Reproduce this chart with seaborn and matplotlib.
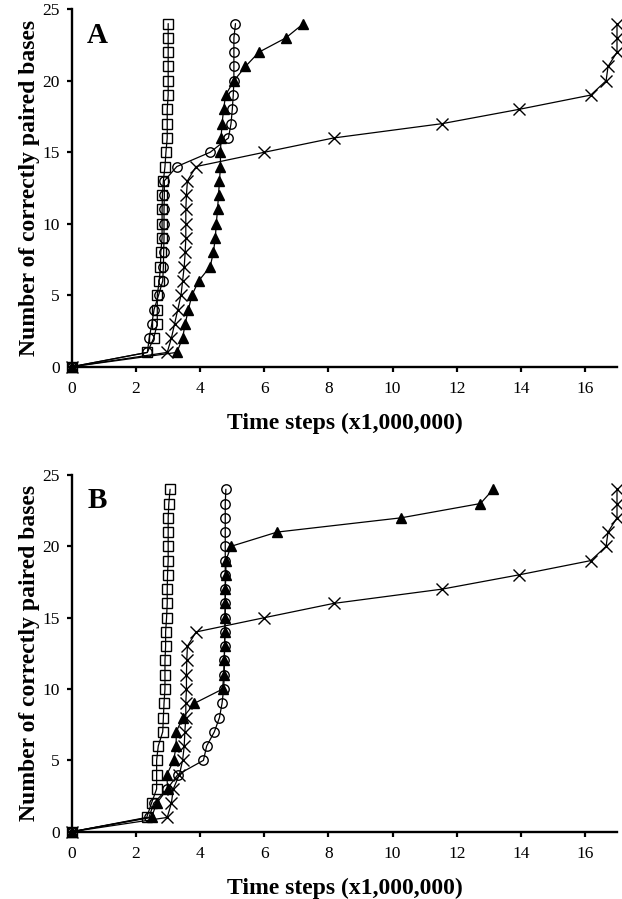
import matplotlib
matplotlib.use("Agg")
import matplotlib.pyplot as plt
import seaborn as sns
import pandas as pd

# number of correctly paired bases (same for every run)
paired = [0, 1, 2, 3, 4, 5, 6, 7, 8, 9, 10, 11, 12,
          13, 14, 15, 16, 17, 18, 19, 20, 21, 22, 23, 24]

# panel A: time steps (x1,000,000) at which each base got paired
a_square = [0, 2.35, 2.55, 2.66, 2.66, 2.66, 2.72, 2.76, 2.77, 2.81, 2.81, 2.81, 2.82,
            2.85, 2.9, 2.93, 2.97, 2.97, 2.97, 3.0, 3.0, 3.0, 3.0, 3.0, 3.0]
a_circle = [0, 2.35, 2.41, 2.49, 2.56, 2.7, 2.83, 2.85, 2.86, 2.87, 2.87, 2.87, 2.88,
            2.88, 3.27, 4.31, 4.88, 4.96, 5.0, 5.03, 5.05, 5.05, 5.05, 5.05, 5.1]
a_triangle = [0, 3.27, 3.45, 3.53, 3.63, 3.74, 3.95, 4.31, 4.41, 4.47, 4.5, 4.54, 4.57,
              4.6, 4.63, 4.63, 4.65, 4.68, 4.73, 4.79, 5.05, 5.41, 5.83, 6.67, 7.22]
a_cross = [0, 2.97, 3.1, 3.2, 3.3, 3.4, 3.45, 3.5, 3.53, 3.55, 3.55, 3.55, 3.57,
           3.6, 3.87, 6.0, 8.16, 11.54, 13.94, 16.18, 16.66, 16.72, 17.0, 17.0, 17.0]

# panel B
b_square = [0, 2.33, 2.48, 2.64, 2.64, 2.64, 2.69, 2.83, 2.85, 2.87, 2.9, 2.9, 2.9,
            2.92, 2.92, 2.95, 2.97, 2.97, 2.98, 3.0, 3.0, 3.0, 3.0, 3.02, 3.06]
b_circle = [0, 2.4, 2.55, 2.97, 3.3, 4.1, 4.2, 4.44, 4.6, 4.68, 4.73, 4.75, 4.75,
            4.76, 4.77, 4.77, 4.78, 4.78, 4.78, 4.78, 4.78, 4.78, 4.78, 4.78, 4.8]
b_triangle = [0, 2.48, 2.64, 2.98, 2.96, 3.17, 3.25, 3.25, 3.46, 3.82, 4.7, 4.73, 4.75,
              4.76, 4.77, 4.78, 4.78, 4.78, 4.8, 4.8, 4.96, 6.4, 10.27, 12.74, 13.14]
b_cross = [0, 2.97, 3.1, 3.16, 3.35, 3.45, 3.5, 3.52, 3.55, 3.55, 3.57, 3.57, 3.58,
           3.6, 3.87, 6.0, 8.16, 11.54, 13.94, 16.18, 16.66, 16.72, 17.0, 17.0, 17.0]

x_ticks = [0, 2, 4, 6, 8, 10, 12, 14, 16]
y_ticks = [0, 5, 10, 15, 20, 25]

sns.set_style("ticks")
plt.rcParams["font.family"] = ["Liberation Serif", "DejaVu Serif"]
plt.rcParams.update({"text.color": "black", "axes.labelcolor": "black",
                     "xtick.color": "black", "ytick.color": "black"})

# marker styles for the four series
estilos = {
    "square": dict(marker="s", markersize=6.8, mfc="none"),
    "circle": dict(marker="o", markersize=6.8, mfc="none"),
    "triangle": dict(marker="^", markersize=7.8, mfc="black"),
    "cross": dict(marker="x", markersize=8.5, mfc="none"),
}

paineis = {
    "A": {"square": a_square, "circle": a_circle, "triangle": a_triangle, "cross": a_cross},
    "B": {"square": b_square, "circle": b_circle, "triangle": b_triangle, "cross": b_cross},
}

fig = plt.figure(figsize=(6.22, 8.99), dpi=100)
posicoes = {"A": [72 / 622, 1 - 366.7 / 899, 545 / 622, 357.4 / 899],
            "B": [72 / 622, 1 - 831.7 / 899, 545 / 622, 356.7 / 899]}

for nome, series in paineis.items():
    ax = fig.add_axes(posicoes[nome])
    for serie, xs in series.items():
        df = pd.DataFrame({"t": xs, "n": paired})
        sns.lineplot(data=df, x="t", y="n", ax=ax, sort=False, estimator=None,
                     color="black", lw=0.9, mec="black", mew=1.0,
                     clip_on=False, zorder=3, **estilos[serie])
    ax.set_xlim(0, 17)
    ax.set_ylim(0, 25)
    ax.set_xticks(x_ticks)
    ax.set_yticks(y_ticks)
    ax.tick_params(axis="both", direction="out", length=3.6, width=1.6,
                   labelsize=12.5, color="black", labelcolor="black")
    ax.tick_params(axis="x", pad=6.5)
    ax.tick_params(axis="y", pad=5)
    sns.despine(ax=ax)
    for s in ["left", "bottom"]:
        ax.spines[s].set_linewidth(1.7)
        ax.spines[s].set_color("black")
    ax.set_xlabel("Time steps (x1,000,000)", fontsize=17, fontweight="bold")
    ax.set_ylabel("Number of correctly paired bases", fontsize=17, fontweight="bold")
    ax.yaxis.set_label_coords(-0.058, 0.5)
    ax.xaxis.set_label_coords(0.5, -0.128)
    ax.text(0.046, 0.928, nome, transform=ax.transAxes, fontsize=21,
            fontweight="bold", ha="center", va="center")
    ax.grid(False)

fig.savefig("out.png", dpi=100)
